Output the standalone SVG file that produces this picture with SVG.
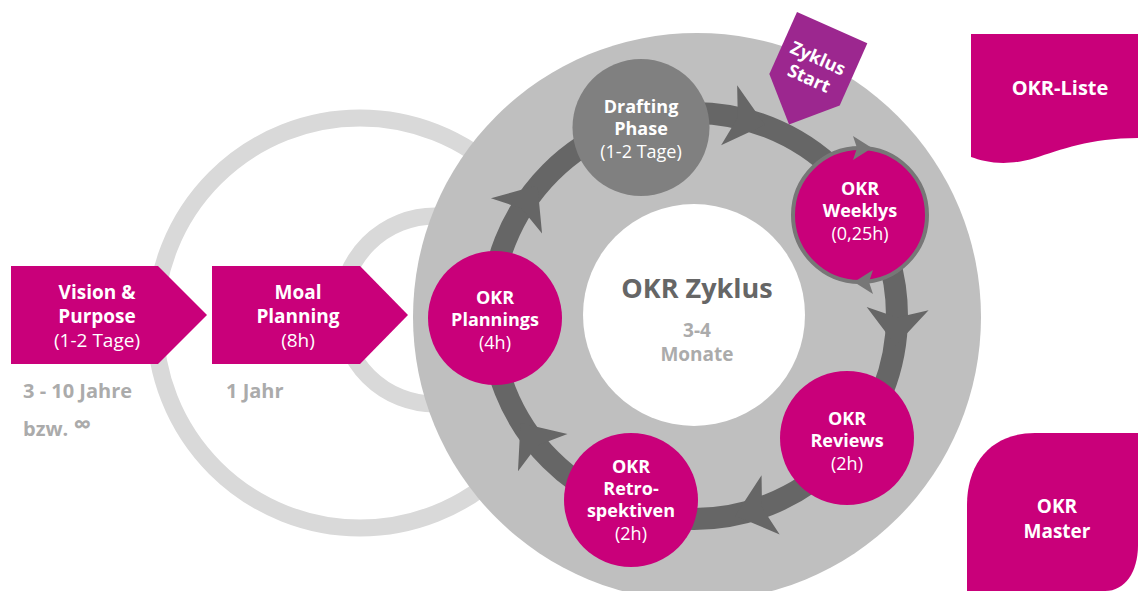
<svg xmlns="http://www.w3.org/2000/svg" width="1138" height="591" viewBox="0 0 1138 591">
<defs>
<style>
.t{font-family:"Open Sans","Noto Sans","Liberation Sans",sans-serif;text-anchor:middle;fill:#fff}
.b{font-weight:700}
.r{font-weight:400}
.mag{fill:#C9007A}
.gl{font-family:"Open Sans","Noto Sans","Liberation Sans",sans-serif;font-weight:700;fill:#ABABAB;font-size:20px}
.lr{fill:none;stroke:#D9D9D9;stroke-width:17}
</style>
<path id="ah" d="M19,0 L-18,-31 L-9,0 L-18,31 Z" fill="#666"/>
<path id="sah" d="M10,0 L-9,-12 L-5,0 L-9,12 Z" fill="#777"/>
</defs>
<rect width="1138" height="591" fill="#fff"/>

<g id="background">
<circle class="lr" cx="360" cy="323" r="205"/>
<circle class="lr" cx="435" cy="310" r="94"/>
<circle cx="697" cy="317" r="284" fill="#BFBFBF"/>
<circle cx="694" cy="315" r="111" fill="#fff"/>
</g>

<g id="connectors">
<circle cx="694" cy="316" r="203" fill="none" stroke="#666" stroke-width="22"/>
<use href="#ah" transform="translate(746.5,119.9) rotate(15)"/>
<use href="#ah" transform="translate(896.7,326.6) rotate(93)"/>
<use href="#ah" transform="translate(753.4,510.1) rotate(163)"/>
<use href="#ah" transform="translate(531.9,438.2) rotate(233)"/>
<use href="#ah" transform="translate(526.7,201) rotate(304.5)"/>
</g>

<g id="center">
<text class="t b" x="697" y="298" font-size="27" style="fill:#666">OKR Zyklus</text>
<text class="t b" x="697" y="337" font-size="19" style="fill:#ABABAB">3-4</text>
<text class="t b" x="697" y="361" font-size="19" style="fill:#ABABAB">Monate</text>
</g>

<g id="drafting">
<circle cx="641" cy="127.5" r="68.5" fill="#808080"/>
<text class="t b" x="641" y="113" font-size="18">Drafting</text>
<text class="t b" x="641" y="135" font-size="18">Phase</text>
<text class="t r" x="641" y="158" font-size="18">(1-2 Tage)</text>
</g>

<g id="weeklys">
<circle cx="860" cy="215" r="67" fill="#C9007A" stroke="#777" stroke-width="4"/>
<use href="#sah" transform="translate(862,148) rotate(0)"/>
<use href="#sah" transform="translate(864,282) rotate(180)"/>
<text class="t b" x="860" y="195" font-size="18">OKR</text>
<text class="t b" x="860" y="217" font-size="18">Weeklys</text>
<text class="t r" x="860" y="240" font-size="18">(0,25h)</text>
</g>

<g id="reviews">
<circle cx="847" cy="438" r="67" class="mag"/>
<text class="t b" x="847" y="425" font-size="18">OKR</text>
<text class="t b" x="847" y="447" font-size="18">Reviews</text>
<text class="t r" x="847" y="470" font-size="18">(2h)</text>
</g>

<g id="retro">
<circle cx="631" cy="500" r="67" class="mag"/>
<text class="t b" x="631" y="473" font-size="18">OKR</text>
<text class="t b" x="631" y="495" font-size="18">Retro-</text>
<text class="t b" x="631" y="517" font-size="18">spektiven</text>
<text class="t r" x="631" y="540" font-size="18">(2h)</text>
</g>

<g id="plannings">
<circle cx="495" cy="318" r="67" class="mag"/>
<text class="t b" x="495" y="304" font-size="18">OKR</text>
<text class="t b" x="495" y="326" font-size="18">Plannings</text>
<text class="t r" x="495" y="349" font-size="18">(4h)</text>
</g>

<g id="vision">
<path class="mag" d="M11,266 H158 L207,315 L158,364 H11 Z"/>
<text class="t b" x="97" y="299" font-size="19">Vision &amp;</text>
<text class="t b" x="97" y="323" font-size="19">Purpose</text>
<text class="t r" x="97" y="347" font-size="19">(1-2 Tage)</text>
<text class="gl" x="23" y="398">3 - 10 Jahre</text>
<text class="gl" x="23" y="436">bzw. <tspan font-size="25" dy="-3">∞</tspan></text>
</g>

<g id="moal">
<path class="mag" d="M212,266 H360 L408,315 L360,364 H212 Z"/>
<text class="t b" x="298" y="299" font-size="19">Moal</text>
<text class="t b" x="298" y="323" font-size="19">Planning</text>
<text class="t r" x="298" y="347" font-size="19">(8h)</text>
<text class="gl" x="226" y="398">1 Jahr</text>
</g>

<g id="zyklus-start" transform="translate(797,12) rotate(24)">
<path d="M0,0 H77 V68 L38.5,106 L0,68 Z" fill="#9C278F"/>
<text class="t b" x="38" y="40" font-size="18">Zyklus</text>
<text class="t b" x="38" y="62" font-size="18">Start</text>
</g>

<g id="okr-liste">
<path class="mag" d="M971,34 H1138 V138 C1090,138 1060,150 1035,158 C1005,167 985,162 971,157 Z"/>
<text class="t b" x="1060" y="95" font-size="20">OKR-Liste</text>
</g>

<g id="okr-master">
<path class="mag" d="M967,591 V505 C967,462 992,433 1035,433 H1138 V545 C1138,572 1125,591 1105,591 Z"/>
<text class="t b" x="1057" y="513" font-size="19">OKR</text>
<text class="t b" x="1057" y="538" font-size="19">Master</text>
</g>
</svg>
